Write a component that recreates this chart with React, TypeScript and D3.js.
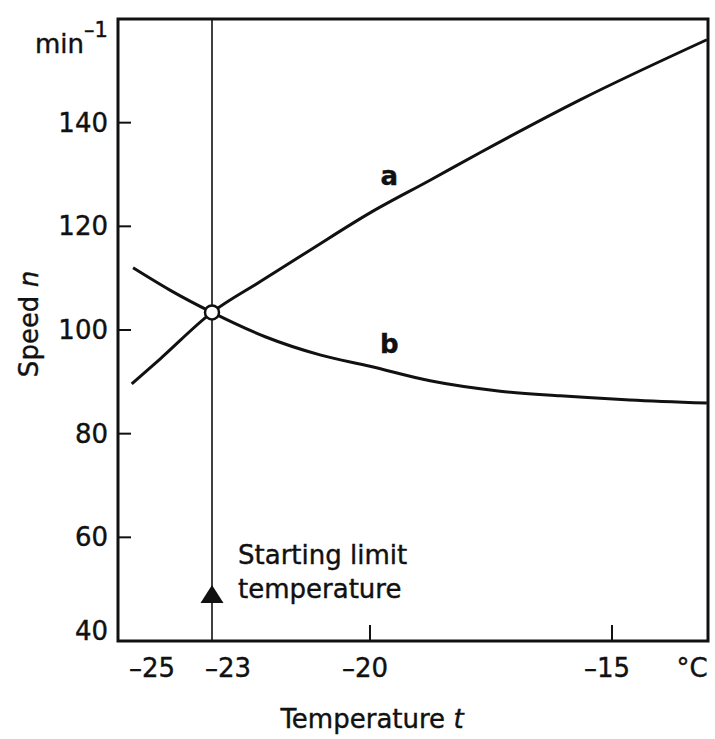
import React from "react";
import * as d3 from "d3";

// speed of the two curves against temperature

const tempA = [-25.92, -24.89, -23, -22.09, -21.14, -20, -18.76, -17.73, -15.66, -13.04];
const speedA = [89.6, 94.4, 103.4, 109.3, 115.4, 122.6, 128.9, 134.2, 144.4, 156.0];

const tempB = [-25.87, -24.53, -23, -21.99, -20.95, -20, -18.76, -17.31, -16.07, -14.63, -13.04];
const speedB = [112.0, 107.7, 103.4, 98.7, 95.2, 93.0, 90.2, 88.2, 87.3, 86.5, 85.9];

const startTemp = -23;
const startSpeed = 103.4;

const xTickLabels = [-25, -23, -20, -15];
const xTickMarks = [-20, -15];
const yTickLabels = [40, 60, 80, 100, 120, 140];
const yTickMarks = [60, 80, 100, 120, 140];

const W = 715;
const H = 739;
const margin = { top: 19, right: 7, bottom: 98, left: 118 };
const FONT = "DejaVu Sans";

export default function App() {
    const x0 = margin.left;
    const x1 = W - margin.right;
    const y0 = margin.top;
    const y1 = H - margin.bottom;

    // the printed axis is not evenly spaced, so the scale is piecewise
    const xScale = d3.scaleLinear().domain([-25, -23, -20, -15]).range([157, 212, 370, 612]);
    const yScale = d3.scaleLinear().domain([40, 160]).range([y1, y0]);

    const line = d3
        .line<[number, number]>()
        .x((d) => xScale(d[0]))
        .y((d) => yScale(d[1]))
        .curve(d3.curveMonotoneX);

    const ptsA = tempA.map((t, i) => [t, speedA[i]] as [number, number]);
    const ptsB = tempB.map((t, i) => [t, speedB[i]] as [number, number]);

    const sx = xScale(startTemp);
    const sy = yScale(startSpeed);
    const txt = { fontFamily: FONT, fontSize: 26, fill: "#111", stroke: "#111", strokeWidth: 0.4 };

    return (
        <svg width={W} height={H} style={{ position: "absolute", left: 0, top: 0, background: "#fff" }}>
            {/* vertical line at the starting limit */}
            <line x1={sx} x2={sx} y1={y0} y2={y1} stroke="#111" strokeWidth={1.6} />
            <path d={`M${sx},${y1 - 56}L${sx - 11.5},${y1 - 38}L${sx + 11.5},${y1 - 38}Z`} fill="#111" />

            <path d={line(ptsA) ?? ""} fill="none" stroke="#111" strokeWidth={3} />
            <path d={line(ptsB) ?? ""} fill="none" stroke="#111" strokeWidth={3} />
            <circle cx={sx} cy={sy} r={7} fill="#fff" stroke="#111" strokeWidth={2.5} />

            {/* frame */}
            <rect x={x0} y={y0} width={x1 - x0} height={y1 - y0} fill="none" stroke="#111" strokeWidth={3} />

            {yTickMarks.map((v) => (
                <line key={v} x1={x0} x2={x0 + 13} y1={yScale(v)} y2={yScale(v)} stroke="#111" strokeWidth={2} />
            ))}
            {yTickLabels.map((v, i) => (
                <text key={v} {...txt} x={x0 - 10} y={yScale(v) - (i === 0 ? 10 : 0)} textAnchor="end" dominantBaseline="central">
                    {v}
                </text>
            ))}
            <text {...txt} x={35} y={53}>
                min
                <tspan fontSize={21} dy={-16}>–1</tspan>
            </text>

            {xTickMarks.map((v) => (
                <line key={v} x1={xScale(v)} x2={xScale(v)} y1={y1} y2={y1 - 16} stroke="#111" strokeWidth={2} />
            ))}
            {xTickLabels.map((v) =>
                v === startTemp ? (
                    <text key={v} {...txt} x={xScale(v) - 7} y={y1 + 36} textAnchor="start">
                        {"–" + Math.abs(v)}
                    </text>
                ) : (
                    <text key={v} {...txt} x={xScale(v) - 5} y={y1 + 36} textAnchor="middle">
                        {"–" + Math.abs(v)}
                    </text>
                )
            )}
            <text {...txt} x={692} y={y1 + 36} textAnchor="middle">°C</text>

            <text {...txt} x={xScale(-19.6)} y={yScale(128)} textAnchor="middle" fontWeight="bold">a</text>
            <text {...txt} x={xScale(-19.6)} y={yScale(95.6)} textAnchor="middle" fontWeight="bold">b</text>

            <text {...txt} x={sx + 26} y={y1 - 77}>Starting limit</text>
            <text {...txt} x={sx + 26} y={y1 - 43}>temperature</text>

            <text {...txt} x={372} y={H - 11} textAnchor="middle">
                Temperature <tspan fontStyle="italic">t</tspan>
            </text>
            <text {...txt} transform={`translate(38,${(y0 + y1) / 2 - 6}) rotate(-90)`} textAnchor="middle">
                Speed <tspan fontStyle="italic">n</tspan>
            </text>
        </svg>
    );
}
